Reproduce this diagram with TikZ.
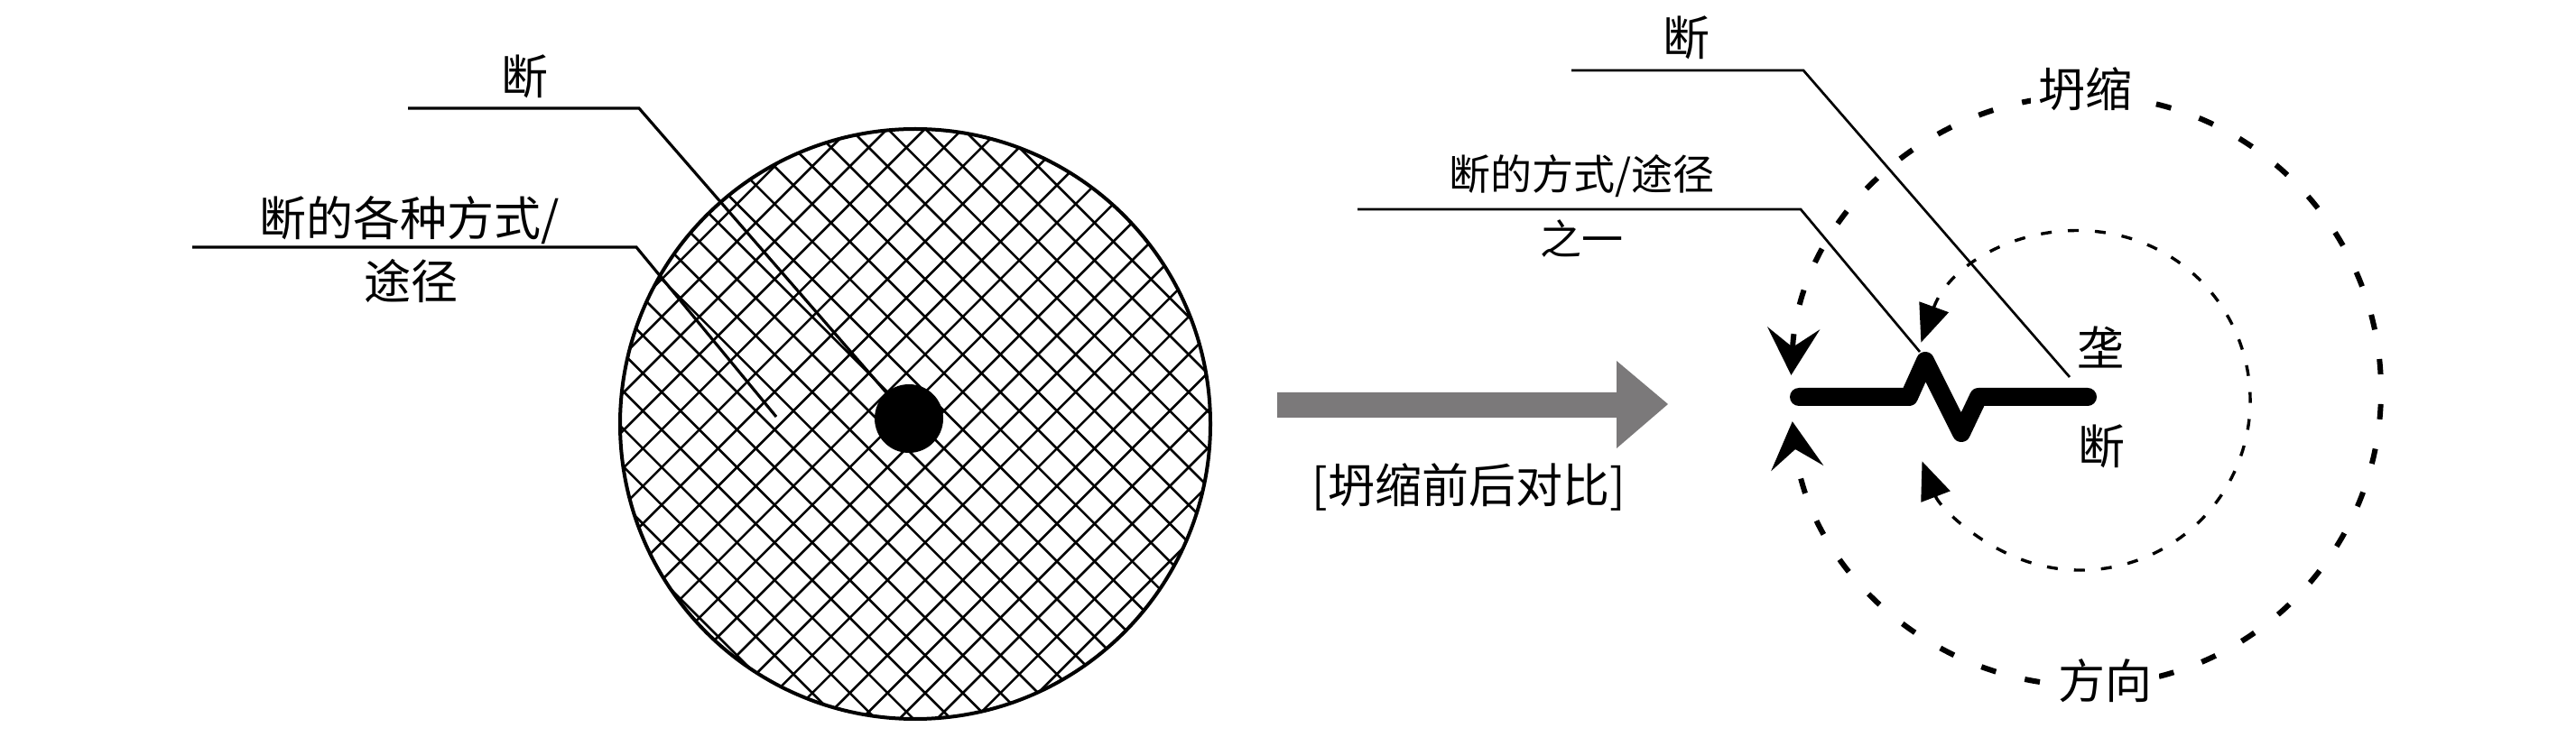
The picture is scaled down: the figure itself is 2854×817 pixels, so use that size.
\documentclass[tikz,border=0pt]{standalone}
\usepackage{fontspec}
\setmainfont{Noto Sans CJK SC}
\usetikzlibrary{arrows.meta,calc}
\definecolor{arrowgray}{RGB}{123,121,122}
\tikzset{
  otip/.tip={Stealth[length=26pt,width=29pt,inset=10.5pt]},
  itip/.tip={Triangle[length=21pt,width=17pt]},
}
\begin{document}
\begin{tikzpicture}[x=0.5pt,y=-0.5pt,
  lbl/.style={inner sep=0pt, font=\fontsize{26}{30}\selectfont},
  lblsm/.style={inner sep=0pt, font=\fontsize{23}{27}\selectfont},
  lblw/.style={lbl, fill=white, inner sep=4pt},
  leader/.style={line width=1.6pt},
  leaderR/.style={line width=1.35pt},
  hatch/.style={line width=1.3pt},
  rim/.style={line width=2pt},
  zig/.style={line width=10pt, line cap=round, line join=round},
  outerdash/.style={line width=3pt, dash pattern=on 8.5pt off 16.5pt},
  innerdash/.style={line width=1.7pt, dash pattern=on 6pt off 9pt},
]
\useasboundingbox (0,0) rectangle (2854,817);

% ---------- left: hatched disk ----------
\coordinate (cc) at (1014,470);
\begin{scope}
  \clip (cc) circle[radius=327];
  \foreach \i in {-19,...,19}{
    \draw[hatch] (1014+4.7+\i*41.7-440, 30) -- (1014+4.7+\i*41.7+440, 910);
    \draw[hatch] (1014+17.3+\i*41.7+440, 30) -- (1014+17.3+\i*41.7-440, 910);
  }
\end{scope}
\draw[rim] (cc) circle[radius=327];
\node[circle, fill=black, inner sep=0pt, minimum size=38pt] (dot) at (1007,464) {};

% left labels
\node[lbl] (dL) at (581,85) {断};
\coordinate (l1s) at (452,120);
\coordinate (l1c) at (708,120);
\draw[leader] (l1s) -- (l1c) -- (dot);

\node[lbl] (wayL) at (454,244) {断的各种方式/};
\node[lbl] (wayL2) at (455,312) {途径};
\coordinate (l2s) at (213,274);
\coordinate (l2c) at (705,274);
\coordinate (l2e) at (860,462);
\draw[leader] (l2s) -- (l2c) -- (l2e);

% ---------- middle arrow ----------
\fill[arrowgray] (1415,435) -- (1791,435) -- (1791,400) -- (1848,448)
  -- (1791,497) -- (1791,463) -- (1415,463) -- cycle;
\node[lbl] (cmp) at (1627,540) {[坍缩前后对比]};

% ---------- right: collapse ----------
\coordinate (oc) at (2311,433);
\coordinate (ic) at (2305,444);
\draw[outerdash, otip-otip] ([shift={(183:327)}]oc)
  arc[start angle=183, end angle=534, radius=327];
\draw[innerdash, itip-itip] ([shift={(200:188)}]ic)
  arc[start angle=200, end angle=519, radius=188];

\node[lblw] (collapse) at (2310,99) {坍缩};
\node[lblw] (direction) at (2332,755) {方向};

% fault zigzag
\coordinate (z1) at (1993,440);
\coordinate (z2) at (2115,440);
\coordinate (z3) at (2133,400);
\coordinate (z4) at (2173,480);
\coordinate (z5) at (2192,440);
\coordinate (z6) at (2313,440);
\draw[zig] (z1) -- (z2) -- (z3) -- (z4) -- (z5) -- (z6);

\node[lbl] (ridge) at (2327,385) {垄};
\node[lbl] (dR2) at (2328,495) {断};

% right labels
\node[lbl] (dR) at (1868,42) {断};
\coordinate (r1s) at (1741,78);
\coordinate (r1c) at (1998,78);
\coordinate (r1e) at (2293,418);
\draw[leaderR] (r1s) -- (r1c) -- (r1e);

\node[lblsm] (wayR) at (1752,195) {断的方式/途径};
\node[lblsm] (oneR) at (1752,265) {之一};
\coordinate (r2s) at (1504,232);
\coordinate (r2c) at (1995,232);
\coordinate (r2e) at (2127,390);
\draw[leaderR] (r2s) -- (r2c) -- (r2e);
\end{tikzpicture}
\end{document}
